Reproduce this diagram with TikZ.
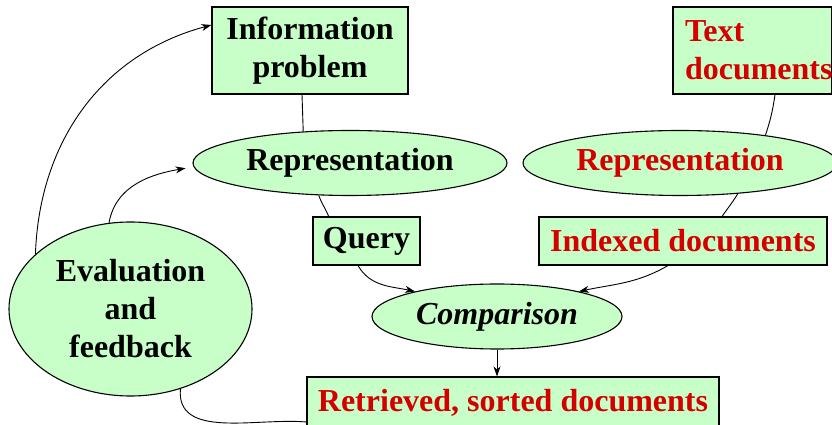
\documentclass[tikz,border=0pt]{standalone}
\usepackage{fontspec}
\setmainfont{Liberation Serif}
\usetikzlibrary{shapes.geometric,arrows.meta,calc}

\definecolor{boxfill}{RGB}{200,255,200}
\definecolor{docred}{RGB}{212,0,0}

\tikzset{
  lbl/.style={font=\fontsize{32}{38}\selectfont\bfseries},
  boxnode/.style={lbl, draw=black, line width=1.1pt, fill=boxfill, rectangle, inner sep=0pt, align=center},
  ovalnode/.style={lbl, draw=black, line width=1.1pt, fill=boxfill, ellipse, inner sep=0pt, align=center},
  link/.style={line width=0.9pt},
  flow/.style={link, -{Stealth[length=10pt,width=7pt,inset=3pt]}},
  doctext/.style={text=docred}
}

\begin{document}
\begin{tikzpicture}[x=1pt,y=1pt]
\useasboundingbox (0,0) rectangle (832,425);

% nodes
\node[boxnode, minimum width=196, minimum height=87] (info) at (310,374.5) {Information\\problem};
\node[boxnode, doctext, minimum width=159, minimum height=87, text width=135, inner xsep=12, align=left] (tdoc) at (752.5,374.5) {Text\\documents};
\node[ovalnode, minimum width=314, minimum height=65] (rep1) at (350,262) {Representation};
\node[ovalnode, doctext, minimum width=314, minimum height=65] (rep2) at (680,262) {Representation};
\node[boxnode, minimum width=107, minimum height=48] (query) at (366.5,184) {Query};
\node[boxnode, doctext, minimum width=288, minimum height=48] (idx) at (683,184) {Indexed documents};
\node[ovalnode, minimum width=250, minimum height=65, font=\fontsize{32}{38}\selectfont\bfseries\itshape] (comp) at (497,108.5) {Comparison};
\node[ovalnode, minimum width=243, minimum height=174] (evalf) at (130.5,116) {Evaluation\\and\\feedback};
\node[boxnode, doctext, minimum width=412, minimum height=52] (retr) at (513,22) {Retrieved, sorted documents};

% plain links
\draw[link] ($(info.south)+(-8,0)$) -- (rep1.146);
\draw[link] ($(tdoc.south)+(22.5,0)$) to[out=-98,in=72] (rep2.18);
\draw[link] (rep1.-134) to[out=-70,in=112] (query.147);
\draw[link] (rep2.-28) to[out=-122,in=55] ($(idx.north)+(39,0)$);

% arrows into the comparison and its result
\draw[flow] ($(query.south)+(-8.5,0)$) to[out=-60,in=168] (comp.163);
\draw[flow] ($(idx.south)+(-15,0)$) to[out=-150,in=12] (comp.17);
\draw[flow] (comp.south) -- (comp.south |- retr.north);

% feedback loops
\draw[flow] (evalf.150) to[out=88,in=195] ($(info.west)+(0,25.5)$);
\draw[flow, shorten >=7pt] (evalf.104.5) to[out=80,in=190] ($(rep1.west)+(0,-4)$);
\draw[link] (evalf.-58.5) to[out=-95,in=175] ($(retr.west)+(0,-19)$);
\end{tikzpicture}
\end{document}
